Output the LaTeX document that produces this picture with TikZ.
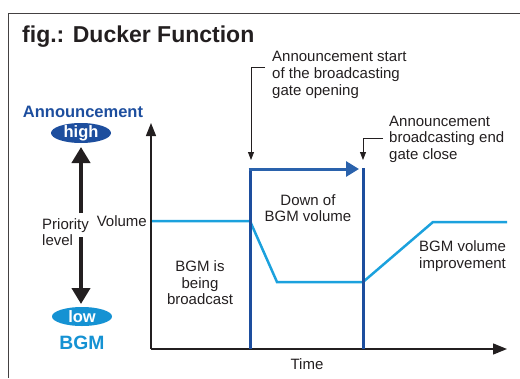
\documentclass[tikz,border=0pt]{standalone}
\usepackage{fontspec}
\setmainfont{Liberation Sans}
\usetikzlibrary{arrows.meta}
\definecolor{dblue}{HTML}{1D4E9E}
\definecolor{mblue}{HTML}{2A62AC}
\definecolor{cyanl}{HTML}{1BA1DD}
\definecolor{lowblue}{HTML}{1592D3}
\definecolor{ink}{HTML}{231F20}
\begin{document}
\begin{tikzpicture}[x=1pt,y=-1pt,
  every node/.style={inner sep=0pt, text=ink, font=\fontsize{15}{17}\selectfont},
  axis/.style={draw=ink, line width=1.3pt},
  leader/.style={draw=ink, line width=0.8pt, -{Triangle[length=8pt,width=6pt]}},
  gate/.style={draw=dblue, line width=3pt},
  vol/.style={draw=cyanl, line width=2.5pt, line join=miter},
  bigarrow/.style={draw=ink, line width=4.5pt, -{Triangle[length=16pt,width=18pt]}},
  pilltext/.style={text=white, font=\bfseries\fontsize{16.5}{18}\selectfont}]
\useasboundingbox (0,0) rectangle (520,378);
% frame
\draw[ink!85, line width=1pt] (8,378) -- (8,13) -- (520,13);
\node[anchor=base west, font=\bfseries\fontsize{23}{27}\selectfont] (title) at (22,42) {fig.: Ducker Function};
% axes
\coordinate (O) at (151,349);
\coordinate (ytip) at (151,123);
\coordinate (xtip) at (507,349);
\draw[axis, -{Triangle[length=13pt,width=10pt]}] (O) -- (ytip);
\draw[axis, -{Triangle[length=14pt,width=11pt]}] (O) -- (xtip);
\node[anchor=east] (volume) at (147,221) {Volume};
\node (time) at (307,364) {Time};
% volume curve
\draw[vol] (152,221) -- (250,221) -- (277,282) -- (363,282) -- (433,222) -- (507,222);
% gate
\coordinate (g1b) at (250,349);
\coordinate (g1t) at (250,167.5);
\coordinate (g2b) at (363,349);
\coordinate (g2t) at (363,167.5);
\draw[gate] (g1b) -- (g1t);
\draw[gate] (g2b) -- (g2t);
\coordinate (hs) at (248.5,169);
\coordinate (he) at (359,169);
\draw[draw=mblue, line width=3pt, -{Triangle[length=13pt,width=15pt]}] (hs) -- (he);
% annotations
\node[anchor=west, align=left] (t1) at (272,75) {Announcement start\\of the broadcasting\\gate opening};
\node[anchor=west, align=left, font=\fontsize{15}{16.5}\selectfont] (t2) at (389,139) {Announcement\\broadcasting end\\gate close};
\coordinate (a1) at (251,160);
\coordinate (a2) at (363,160);
\draw[leader] ([shift={(-7,-8)}]t1.west) -| (a1);
\draw[leader] ([shift={(-6,-1)}]t2.west) -| (a2);
\node[align=center, font=\fontsize{15}{16.5}\selectfont] (down) at (308,208) {Down of\\BGM volume};
\node[align=center, font=\fontsize{15}{16.5}\selectfont] (bgmis) at (200,283) {BGM is\\being\\broadcast};
\node[anchor=west, align=left, font=\fontsize{15}{16.5}\selectfont] (impr) at (419,256) {BGM volume\\improvement};
% priority
\node[font=\bfseries\fontsize{16.5}{20}\selectfont, text=dblue] (ann) at (83,112) {Announcement};
\fill[dblue] (81,133) ellipse [x radius=30, y radius=10];
\node[pilltext] (high) at (81,133) {high};
\fill[lowblue] (82,316.5) ellipse [x radius=30, y radius=9.5];
\node[pilltext] (low) at (82,317) {low};
\node[font=\bfseries\fontsize{19.3}{22}\selectfont, text=lowblue] (bgm) at (82,343) {BGM};
\node[anchor=west, align=left, font=\fontsize{15}{16}\selectfont] (prio) at (42,232) {Priority\\level};
\coordinate (pt) at (81,213);
\coordinate (pb) at (81,237);
\coordinate (hightip) at (81,147);
\coordinate (lowtip) at (81,304);
\draw[bigarrow] (pt) -- (hightip);
\draw[bigarrow] (pb) -- (lowtip);
\end{tikzpicture}
\end{document}
